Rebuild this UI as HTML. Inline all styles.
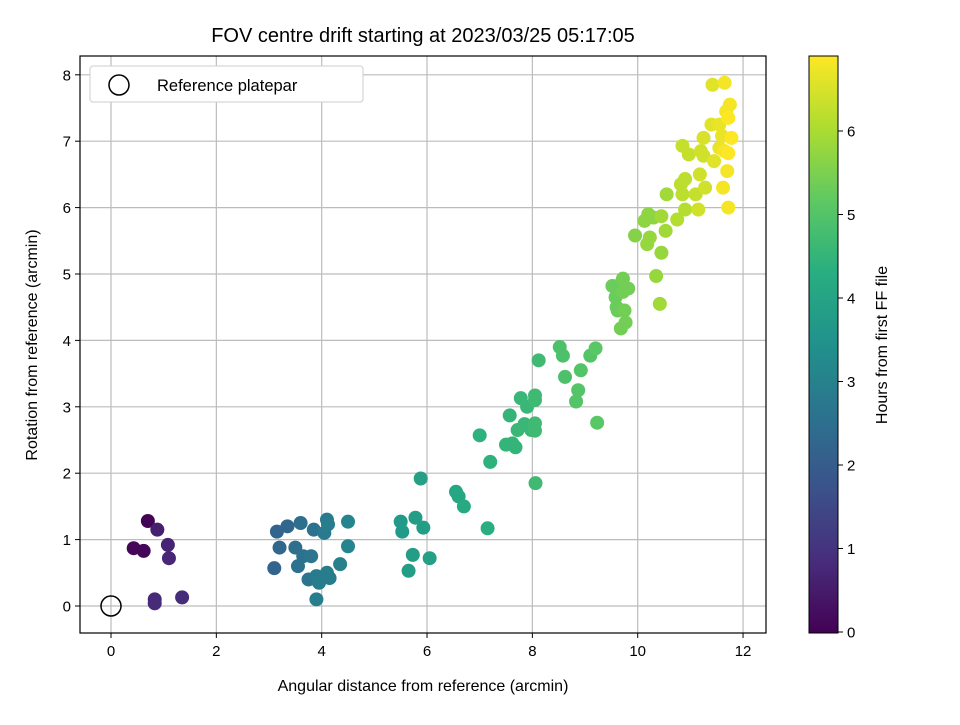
<!DOCTYPE html>
<html><head><meta charset="utf-8"><style>
body{margin:0;background:#fff}
svg text{font-family:"Liberation Sans","DejaVu Sans",sans-serif;fill:#000}
</style></head><body>
<svg id="chart" width="960" height="720" viewBox="0 0 960 720" xmlns="http://www.w3.org/2000/svg">
<defs>
<linearGradient id="vir" x1="0" y1="1" x2="0" y2="0">
<stop offset="0" stop-color="#440154"/><stop offset="0.125" stop-color="#472d7b"/><stop offset="0.25" stop-color="#3b528b"/><stop offset="0.375" stop-color="#2c728e"/><stop offset="0.5" stop-color="#21918c"/><stop offset="0.625" stop-color="#28ae80"/><stop offset="0.75" stop-color="#5ec962"/><stop offset="0.875" stop-color="#addc30"/><stop offset="1" stop-color="#fde725"/>
</linearGradient>
</defs>
<rect width="960" height="720" fill="#fff"/>
<text x="423" y="42" font-size="20" text-anchor="middle">FOV centre drift starting at 2023/03/25 05:17:05</text>
<g id="grid"></g>
<g id="points"></g>
<rect x="80" y="56" width="686" height="577" fill="none" stroke="#000" stroke-width="1.2"/>
<g id="ticks"></g>
<text x="423" y="691" font-size="16" text-anchor="middle">Angular distance from reference (arcmin)</text>
<text transform="translate(37,345) rotate(-90)" font-size="16" text-anchor="middle">Rotation from reference (arcmin)</text>
<g>
<rect x="90" y="66" width="273" height="36" rx="3" fill="#fff" stroke="#ccc"/>
<circle cx="119" cy="85" r="10" fill="none" stroke="#000" stroke-width="1.5"/>
<text x="157" y="91" font-size="16.5">Reference platepar</text>
</g>
<rect x="809" y="56" width="29" height="577" fill="url(#vir)" stroke="#000" stroke-width="1"/>
<g id="cticks"></g>
<text transform="translate(887,345) rotate(-90)" font-size="16" text-anchor="middle">Hours from first FF file</text>
</svg>
<script>
const xs=[0.7,0.43,0.62,0.88,1.08,1.1,0.83,0.83,1.35,
3.1,3.15,3.35,3.2,3.6,3.5,3.65,3.8,3.85,3.55,3.75,3.9,4.05,4.1,4.12,3.95,4.1,4.15,4.35,4.5,4.5,3.9,
5.5,5.53,5.78,5.93,5.73,6.05,5.65,5.88,6.55,6.6,6.7,7.15,
7.0,7.2,7.5,7.62,7.68,7.57,7.72,7.85,7.98,8.05,8.05,7.78,7.9,8.05,8.05,8.12,8.06,8.52,8.58,8.62,8.83,8.87,8.92,9.1,9.2,9.23,
9.52,9.58,9.6,9.62,9.7,9.72,9.75,9.82,9.77,9.68,9.72,
9.95,10.13,10.2,10.3,10.18,10.23,10.35,10.42,10.45,10.45,10.53,10.55,
10.75,10.82,10.85,10.9,10.9,10.85,10.97,11.1,11.15,11.18,11.2,11.25,11.28,11.25,11.4,11.42,11.45,11.55,11.6,11.55,11.62,11.65,11.68,11.75,11.7,11.72,11.72,11.65,11.78,11.72];
const ys=[1.28,0.87,0.83,1.15,0.92,0.72,0.1,0.04,0.13,
0.57,1.12,1.2,0.88,1.25,0.88,0.75,0.75,1.15,0.6,0.4,0.45,1.1,1.3,1.23,0.35,0.5,0.42,0.63,1.27,0.9,0.1,
1.27,1.12,1.33,1.18,0.77,0.72,0.53,1.92,1.72,1.65,1.5,1.17,
2.57,2.17,2.43,2.45,2.39,2.87,2.65,2.74,2.65,2.75,2.64,3.13,3.0,3.1,3.17,3.7,1.85,3.9,3.77,3.45,3.08,3.25,3.55,3.77,3.88,2.76,
4.82,4.65,4.5,4.45,4.88,4.93,4.45,4.78,4.27,4.18,4.73,
5.58,5.8,5.9,5.85,5.45,5.55,4.97,4.55,5.32,5.87,5.65,6.2,
5.82,6.35,6.2,6.43,5.97,6.93,6.8,6.2,5.97,6.5,6.85,6.78,6.3,7.05,7.25,7.85,6.7,6.9,7.08,7.25,6.3,7.88,7.45,7.55,6.55,7.35,6.0,6.85,7.05,6.82];
const hours=[0.05,0.1,0.1,0.6,0.7,0.75,0.8,0.8,0.85,
2.2,2.2,2.3,2.3,2.5,2.5,2.6,2.7,2.6,2.6,2.7,2.8,2.8,2.8,2.9,2.9,2.9,2.9,3.0,3.1,3.1,2.9,
3.7,3.7,3.8,3.8,3.8,3.9,3.8,3.9,4.1,4.1,4.2,4.3,
4.4,4.4,4.5,4.5,4.5,4.5,4.6,4.6,4.6,4.7,4.7,4.6,4.6,4.7,4.7,4.7,4.7,4.9,4.9,4.9,5.0,5.0,5.0,5.0,5.1,5.1,
5.3,5.3,5.3,5.3,5.3,5.4,5.4,5.4,5.4,5.4,5.4,
5.6,5.7,5.7,5.7,5.8,5.8,5.8,5.9,5.8,5.9,5.9,5.9,
6.1,6.2,6.2,6.2,6.1,6.3,6.3,6.3,6.4,6.4,6.4,6.4,6.4,6.5,6.6,6.6,6.6,6.7,6.7,6.7,6.8,6.8,6.8,6.8,6.8,6.9,6.8,6.8,6.9,6.9];
const xTicks=[0,2,4,6,8,10,12];
const yTicks=[0,1,2,3,4,5,6,7,8];
const cTicks=[0,1,2,3,4,5,6];
const hMax=6.9;
const NS="http://www.w3.org/2000/svg";
const X=v=>111+v*52.67, Y=v=>606-v*66.4, C=v=>632-v*83.5;
const vir=[[68,1,84],[71,45,123],[59,82,139],[44,114,142],[33,145,140],[40,174,128],[94,201,98],[173,220,48],[253,231,37]];
function col(h){let t=Math.max(0,Math.min(1,h/hMax))*8;let i=Math.min(7,Math.floor(t)),f=t-i;const a=vir[i],b=vir[i+1];return `rgb(${a.map((v,k)=>Math.round(v+(b[k]-v)*f)).join(',')})`;}
function mk(tag,attrs,parent){const e=document.createElementNS(NS,tag);for(const k in attrs)e.setAttribute(k,attrs[k]);document.getElementById(parent).appendChild(e);return e;}
xTicks.forEach(t=>{
const l=mk('line',{x1:X(t),x2:X(t),y1:56,y2:633,stroke:'#bcbcbc','stroke-width':1.2},'grid');


mk('line',{x1:X(t),x2:X(t),y1:633,y2:638,stroke:'#000'},'ticks');
const s=mk('text',{x:X(t),y:656,'font-size':15,'text-anchor':'middle'},'ticks');s.textContent=t;


});
yTicks.forEach(t=>{
const l=mk('line',{x1:80,x2:766,y1:Y(t),y2:Y(t),stroke:'#bcbcbc','stroke-width':1.2},'grid');


mk('line',{x1:75,x2:80,y1:Y(t),y2:Y(t),stroke:'#000'},'ticks');
const s=mk('text',{x:71,y:Y(t)+5.5,'font-size':15,'text-anchor':'end'},'ticks');s.textContent=t;


});
cTicks.forEach(t=>{
mk('line',{x1:838,x2:843,y1:C(t),y2:C(t),stroke:'#000'},'cticks');
const s=mk('text',{x:847,y:C(t)+5.5,'font-size':15},'cticks');s.textContent=t;


});
xs.forEach((x,i)=>{
const c=mk('circle',{cx:X(x),cy:Y(ys[i]),r:7,fill:col(hours[i])},'points');


});
const r=mk('circle',{cx:X(0),cy:Y(0),r:10,fill:'none',stroke:'#000','stroke-width':1.5},'points');


</script>
</body></html>
